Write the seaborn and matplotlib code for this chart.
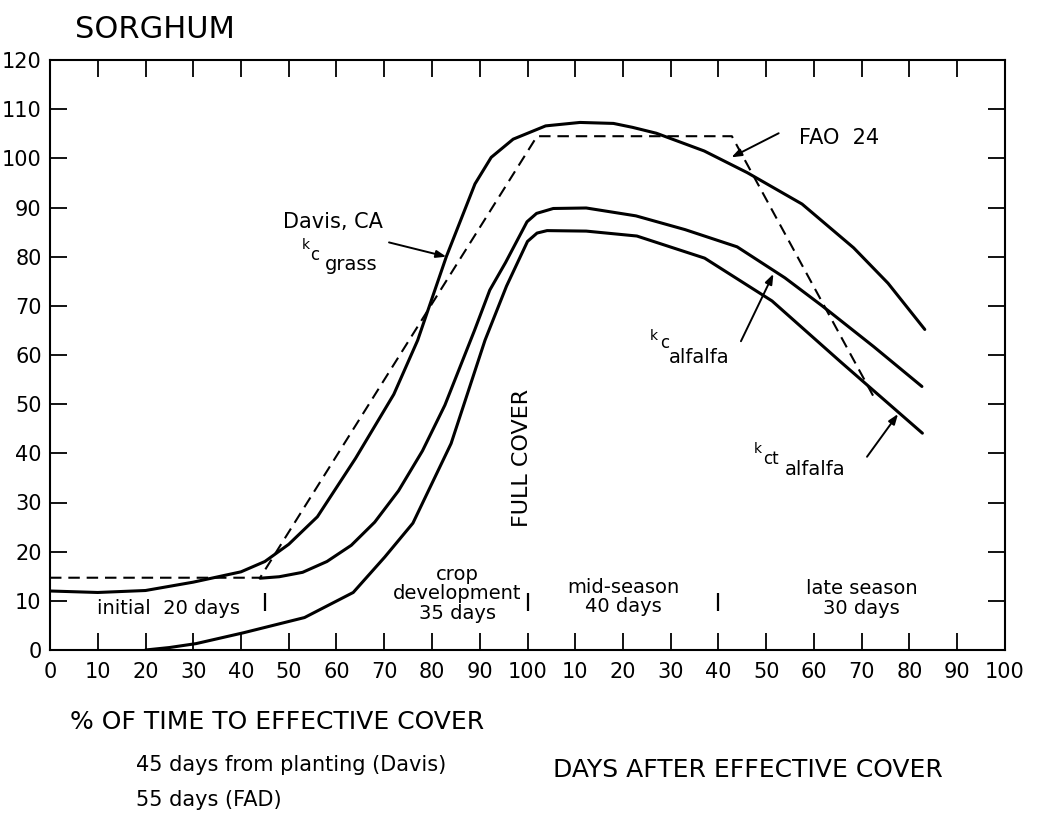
import numpy as np
import pandas as pd
import matplotlib
matplotlib.use("Agg")
import matplotlib.pyplot as plt
import seaborn as sns

# ---------------- data ----------------
# x axis: 0-100 = % of time to effective cover, 100-200 = 0-100 days after effective cover
x_grass = [0, 10, 20, 30, 40, 45, 50, 56, 64, 72, 77, 83, 89, 92.4, 97, 103.8,
           111, 118, 122, 127, 137, 146, 157.5, 168.3, 175.5, 183.2]
y_grass = [12, 11.7, 12.1, 13.8, 15.9, 18, 21.5, 27.1, 39, 52, 63, 80, 94.8, 100.2, 103.9, 106.6,
           107.3, 107.1, 106.3, 105.1, 101.5, 97.1, 90.7, 81.8, 74.6, 65.2]

x_alfalfa = [44, 48, 52.9, 58, 63.1, 68, 73, 78, 82.7, 88.9, 92.1, 95.4, 99.9, 101.9, 105.4,
             112.3, 122.7, 133, 143.9, 153.9, 161.7, 172.5, 182.6]
y_alfalfa = [14.6, 14.9, 15.8, 18, 21.3, 26, 32.4, 40.5, 49.8, 65, 73.2, 78.8, 87.1, 88.8, 89.8,
             89.9, 88.3, 85.5, 82, 75.7, 70, 61.7, 53.6]

x_kct = [20, 25, 30.6, 40.5, 53.3, 63.5, 70.1, 76, 84, 91.1, 95.6, 100, 102, 104.1,
         112.3, 122.9, 137.1, 151.2, 165.7, 182.7]
y_kct = [0, 0.5, 1.3, 3.5, 6.6, 11.7, 18.9, 25.8, 42, 63, 74, 83.1, 84.8, 85.3,
         85.2, 84.2, 79.7, 71, 58.5, 44.1]

x_fao = [0, 44, 102, 142.8, 172.5]
y_fao = [14.7, 14.7, 104.5, 104.5, 51.5]

stage_bounds = [45, 100, 140]
x_ticks = list(range(0, 201, 10))
x_tick_labels = [str(v) for v in range(0, 101, 10)] + [str(v) for v in range(10, 101, 10)]
y_ticks = list(range(0, 121, 10))
y_tick_labels = [str(v) for v in y_ticks]

# ---------------- style ----------------
sns.set_style("ticks")
plt.rcParams["font.family"] = ["DejaVu Sans"]
plt.rcParams["mathtext.fontset"] = "dejavusans"
plt.rcParams["text.color"] = "black"
plt.rcParams["xtick.color"] = "black"
plt.rcParams["ytick.color"] = "black"
plt.rcParams["xtick.labelcolor"] = "black"
plt.rcParams["ytick.labelcolor"] = "black"

fig = plt.figure(figsize=(10.43, 8.16), dpi=100)
ax = fig.add_axes([50 / 1043, 1 - 650 / 816, 955 / 1043, 590 / 816])

solid_kw = dict(color="black", linewidth=2.2, estimator=None, sort=False, legend=False,
                solid_joinstyle="round", solid_capstyle="round")
sns.lineplot(x=x_grass, y=y_grass, ax=ax, **solid_kw)
sns.lineplot(x=x_alfalfa, y=y_alfalfa, ax=ax, **solid_kw)
sns.lineplot(x=x_kct, y=y_kct, ax=ax, **solid_kw)
sns.lineplot(x=x_fao, y=y_fao, ax=ax, color="black", linewidth=1.5, estimator=None,
             sort=False, legend=False, dashes=False, linestyle=(0, (5.5, 3.3)))

# stage boundary marks
ax.vlines(stage_bounds, 8, 11.6, color="black", linewidth=1.6)

ax.set_xlim(0, 200)
ax.set_ylim(0, 120)
ax.set_xticks(x_ticks)
ax.set_xticklabels(x_tick_labels, fontsize=15)
ax.set_yticks(y_ticks)
ax.set_yticklabels(y_tick_labels, fontsize=15)
ax.tick_params(axis="both", direction="in", length=12, width=1.3, top=True, right=True,
               labeltop=False, labelright=False, colors="black")
ax.tick_params(axis="x", pad=9)
ax.tick_params(axis="y", pad=6)
for s in ax.spines.values():
    s.set_visible(True)
    s.set_linewidth(1.5)
    s.set_color("black")
ax.set_xlabel("")
ax.set_ylabel("")

# ---------------- texts ----------------
fig.text(75 / 1043, 1 - 29 / 816, "SORGHUM", fontsize=22, ha="left", va="center")

ax.text(24.9, 8.5, "initial  20 days", fontsize=14, ha="center", va="center")
ax.text(85.3, 11.4, "crop\ndevelopment\n35 days", fontsize=14, ha="center", va="center",
        linespacing=1.05)
ax.text(120, 10.8, "mid-season\n40 days", fontsize=14, ha="center", va="center", linespacing=1.05)
ax.text(170, 10.4, "late season\n30 days", fontsize=14, ha="center", va="center", linespacing=1.05)
ax.text(98.8, 39, "FULL COVER", fontsize=16, rotation=90, ha="center", va="center")

ax.text(59.2, 87.1, "Davis, CA", fontsize=15, ha="center", va="center")
ax.text(165.2, 104.2, "FAO  24", fontsize=15, ha="center", va="center")

arrow = dict(arrowstyle="-|>,head_length=0.6,head_width=0.22", color="black", lw=1.4,
             shrinkA=0, shrinkB=0)
ax.annotate("", xy=(83, 80), xytext=(71, 82.9), arrowprops=arrow)
ax.annotate("", xy=(142.7, 100.2), xytext=(152.6, 105.1), arrowprops=arrow)
ax.annotate("", xy=(151.5, 76.5), xytext=(144.7, 62.8), arrowprops=arrow)
ax.annotate("", xy=(177.6, 48), xytext=(171.1, 39.3), arrowprops=arrow)


def k_label(x, y, sub1, sub2, d1, d2):
    ax.text(x, y, "k", fontsize=10, ha="left", va="center")
    ax.annotate(sub1, xy=(x, y), xytext=d1, textcoords="offset points",
                fontsize=12, ha="left", va="center")
    ax.annotate(sub2, xy=(x, y), xytext=d2, textcoords="offset points",
                fontsize=14, ha="left", va="center")


k_label(52.7, 82.3, "c", "grass", (6, -7), (17, -14))
k_label(125.5, 63.8, "c", "alfalfa", (8, -5), (14, -15))
k_label(147.3, 40.9, "ct", "alfalfa", (7, -7), (23, -15))

fig.text(70 / 1043, 1 - 722 / 816, "% OF TIME TO EFFECTIVE COVER", fontsize=18,
         ha="left", va="center")
fig.text(136 / 1043, 1 - 765 / 816, "45 days from planting (Davis)", fontsize=15,
         ha="left", va="center")
fig.text(136 / 1043, 1 - 800 / 816, "55 days (FAD)", fontsize=15, ha="left", va="center")
fig.text(553 / 1043, 1 - 770 / 816, "DAYS AFTER EFFECTIVE COVER", fontsize=18,
         ha="left", va="center")

fig.savefig("out.png", dpi=100, facecolor="white")
